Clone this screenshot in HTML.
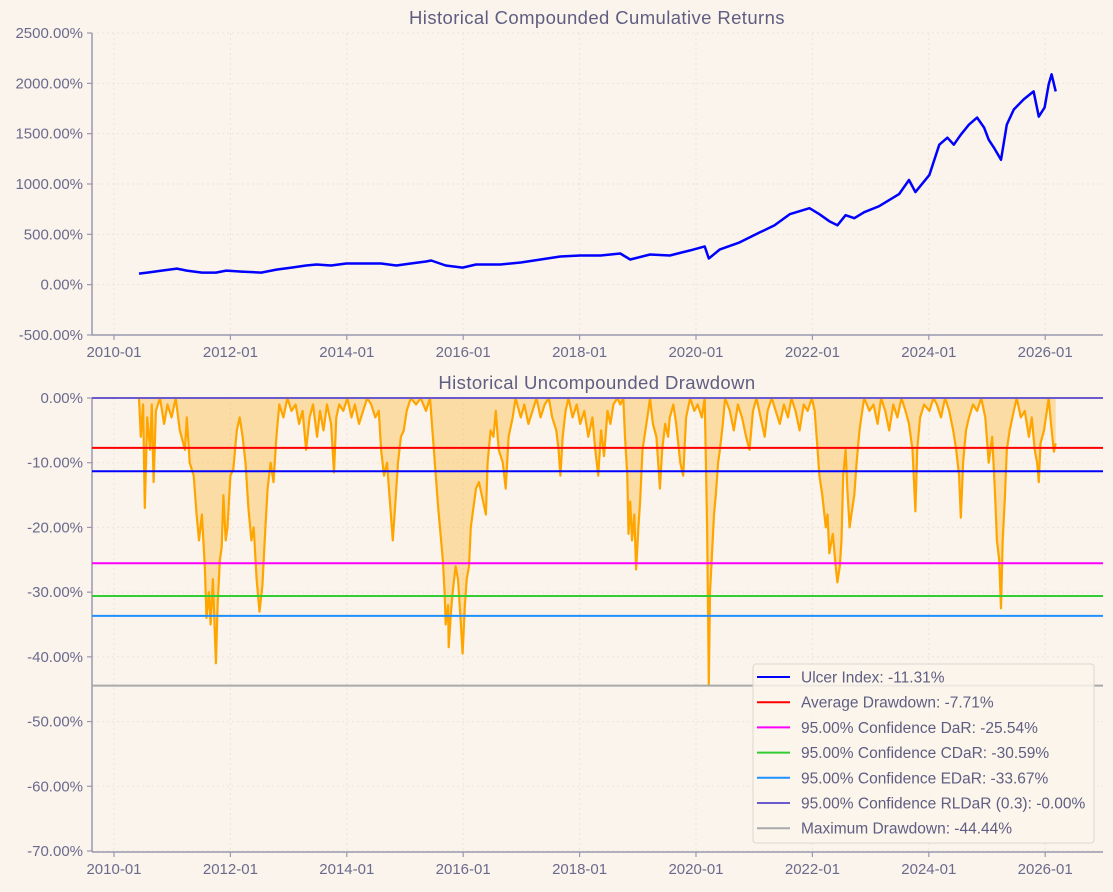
<!DOCTYPE html>
<html><head><meta charset="utf-8">
<style>
html,body{margin:0;padding:0;background:#faf4ec;}
svg{display:block;font-family:"Liberation Sans","DejaVu Sans",sans-serif;}
</style></head>
<body>
<svg id="chart" width="1113" height="892" viewBox="0 0 1113 892" xmlns="http://www.w3.org/2000/svg">
<rect width="1113" height="892" fill="#faf4ec"/>
<g id="top"></g>
<g id="bottom"></g>
</svg>
<script>
// ---------- DATA ----------
const cumDates = [0.43,0.57,0.82,1.08,1.25,1.51,1.75,1.93,2.19,2.53,2.79,3.05,3.30,3.48,3.73,3.99,4.25,4.59,4.85,5.10,5.36,5.45,5.70,5.99,6.22,6.64,6.99,7.33,7.67,8.01,8.36,8.70,8.87,9.21,9.55,9.90,10.15,10.22,10.41,10.75,11.10,11.35,11.61,11.78,11.95,12.12,12.29,12.43,12.57,12.72,12.89,13.15,13.32,13.49,13.66,13.77,14.01,14.18,14.32,14.43,14.55,14.69,14.83,14.95,15.03,15.12,15.24,15.34,15.46,15.63,15.80,15.89,15.99,16.06,16.11,16.18];
const cumValues = [110,120,140,160,140,120,120,140,130,120,150,170,190,200,190,210,210,210,190,210,230,240,190,170,200,200,220,250,280,290,290,310,250,300,290,340,380,260,350,420,520,590,700,730,760,700,630,590,690,660,720,780,840,900,1040,920,1090,1390,1460,1390,1490,1590,1660,1560,1440,1360,1240,1590,1740,1840,1920,1670,1760,1990,2090,1920];
const ddDates = [0.43,0.46,0.50,0.53,0.57,0.62,0.65,0.68,0.72,0.79,0.86,0.92,0.99,1.06,1.13,1.22,1.25,1.30,1.37,1.42,1.46,1.51,1.56,1.59,1.63,1.66,1.70,1.75,1.78,1.82,1.85,1.88,1.92,1.95,2.00,2.05,2.11,2.16,2.21,2.26,2.31,2.36,2.40,2.45,2.50,2.55,2.59,2.64,2.69,2.74,2.79,2.84,2.91,2.98,3.05,3.12,3.18,3.24,3.30,3.36,3.42,3.49,3.54,3.60,3.66,3.73,3.78,3.82,3.87,3.94,4.01,4.08,4.14,4.21,4.28,4.35,4.42,4.49,4.55,4.59,4.64,4.69,4.74,4.79,4.85,4.88,4.93,4.98,5.03,5.10,5.19,5.27,5.36,5.43,5.48,5.53,5.57,5.62,5.65,5.68,5.70,5.74,5.75,5.79,5.82,5.87,5.91,5.96,5.99,6.03,6.06,6.10,6.13,6.16,6.22,6.27,6.32,6.39,6.42,6.47,6.52,6.56,6.61,6.68,6.73,6.78,6.85,6.90,6.99,7.05,7.12,7.19,7.26,7.33,7.40,7.47,7.53,7.60,7.64,7.67,7.71,7.76,7.81,7.88,7.95,8.01,8.08,8.15,8.22,8.27,8.32,8.37,8.42,8.48,8.53,8.58,8.65,8.70,8.75,8.78,8.82,8.84,8.87,8.90,8.94,8.97,9.01,9.04,9.08,9.13,9.18,9.21,9.26,9.32,9.35,9.38,9.42,9.47,9.52,9.55,9.61,9.66,9.73,9.78,9.83,9.90,9.97,10.03,10.10,10.15,10.19,10.21,10.22,10.24,10.27,10.31,10.34,10.38,10.41,10.46,10.50,10.58,10.65,10.72,10.79,10.86,10.92,10.98,11.04,11.11,11.18,11.23,11.30,11.37,11.44,11.51,11.58,11.64,11.71,11.78,11.85,11.92,11.99,12.04,12.09,12.12,12.17,12.23,12.26,12.29,12.35,12.40,12.43,12.47,12.50,12.53,12.57,12.60,12.64,12.67,12.72,12.76,12.81,12.84,12.89,12.98,13.05,13.12,13.18,13.25,13.32,13.39,13.46,13.53,13.60,13.66,13.72,13.77,13.80,13.85,13.92,14.01,14.08,14.14,14.21,14.28,14.35,14.42,14.47,14.52,14.55,14.59,14.64,14.69,14.76,14.83,14.90,14.97,15.03,15.09,15.14,15.17,15.21,15.24,15.27,15.31,15.34,15.39,15.46,15.51,15.58,15.65,15.72,15.77,15.82,15.86,15.89,15.92,15.98,16.03,16.06,16.10,16.15,16.18];
const ddValues = [0,-6,-1,-17,-3,-8,-1,-13,-2,0,-4,-1,-3,0,-5,-8,-3,-10,-12,-18,-22,-18,-26,-34,-30,-35,-28,-41,-32,-25,-23,-15,-22,-20,-12,-11,-5,-3,-6,-10,-17,-22,-20,-28,-33,-29,-22,-14,-10,-13,-6,-1,-3,0,-2,-1,-4,-2,-8,-3,-1,-6,-2,-5,-1,-4,-11.5,-3,-1,-2,0,-3,-1,-4,-2,0,-1,-3,-2,-8,-12,-10,-16,-22,-14,-10,-6,-5,-2,0,-1,0,-2,0,-6,-12,-17,-22,-25,-30,-35,-32,-38.5,-33,-30,-26,-28,-35,-39.5,-32,-28,-26,-20,-18,-14,-13,-15,-18,-10,-5,-6,-2,-8,-10,-14,-6,-3,0,-3,-1,-4,-2,0,-3,-1,0,-3,-5,-8,-12,-6,-2,0,-3,-1,-4,-2,-6,-3,-8,-12,-5,-9,-2,-4,-1,0,-1,0,-6,-12,-21,-16,-22,-18,-26.5,-20,-16,-8,-5,-2,0,-4,-6,-10,-14,-8,-4,-6,-3,-1,-4,-10,-12,-3,0,-2,-1,-3,0,-20,-35,-44.4,-30,-25,-18,-15,-10,-8,-4,0,-2,-5,-1,-3,-6,-8,-2,0,-3,-6,-2,0,-2,-4,-1,-3,0,-2,-5,-1,-2,0,-2,-8,-12,-15,-20,-18,-24,-21,-26,-28.5,-26,-22,-12,-8,-14,-20,-18,-15,-10,-5,-3,0,-2,-1,-4,0,-2,-5,-1,-3,0,-2,-4,-8,-17.5,-8,-3,-1,-2,0,-1,-3,0,-2,-5,-8,-12,-18.5,-10,-5,-3,-1,-2,0,-3,-10,-6,-15,-22,-25,-32.5,-22,-15,-8,-5,-2,0,-3,-2,-6,-3,-8,-10,-13,-7,-5,-2,0,-4,-8.3,-7];
const refLabels = ["Ulcer Index: -11.31%","Average Drawdown: -7.71%","95.00% Confidence DaR: -25.54%","95.00% Confidence CDaR: -30.59%","95.00% Confidence EDaR: -33.67%","95.00% Confidence RLDaR (0.3): -0.00%","Maximum Drawdown: -44.44%"];
const refValues = [-11.31,-7.71,-25.54,-30.59,-33.67,-0.00,-44.44];
const refNames = ["ulcer-index-line","average-drawdown-line","dar-line","cdar-line","edar-line","rldar-line","max-drawdown-line"];
const refColors = ["#0000ff","#ff0000","#ff00ff","#32cd32","#1e90ff","#6a5acd","#a9a9a9"];
const xTickYears = [0,2,4,6,8,10,12,14,16];
const xTickLabels = ["2010-01","2012-01","2014-01","2016-01","2018-01","2020-01","2022-01","2024-01","2026-01"];
const topTicks = [2500,2000,1500,1000,500,0,-500];
const botTicks = [0,-10,-20,-30,-40,-50,-60,-70];

// ---------- HELPERS ----------
const NS="http://www.w3.org/2000/svg";
const AX="#9a98b0", TXT="#6b6a8c";
function mk(tag, attrs, parent){const e=document.createElementNS(NS,tag);for(const k in attrs)e.setAttribute(k,attrs[k]);parent.appendChild(e);return e;}
const L=92,R=1103;
const xS = yr => 114 + yr*58.2;
const topY = v => 335 - (v+500)/3000*302;
const botY = v => 398 + (-v)/70*453;

function axes(g, top, bottom, ticks, yfn, fmt, title, prefix){
  ticks.forEach(t=>{const l=mk('line',{x1:L,x2:R,y1:yfn(t),y2:yfn(t),stroke:'#efe3d6','stroke-width':1,'stroke-dasharray':'2,3'},g);
    });
  xTickYears.forEach(y=>{const l=mk('line',{x1:xS(y),x2:xS(y),y1:top,y2:bottom,stroke:'#efe3d6','stroke-width':1,'stroke-dasharray':'2,3'},g);
    });
  const ya=mk('line',{x1:L,x2:L,y1:top,y2:bottom,stroke:AX,'stroke-width':1.5},g);
  
  const xa=mk('line',{x1:L,x2:R,y1:bottom,y2:bottom,stroke:AX,'stroke-width':1.5},g);
  
  ticks.forEach(t=>{mk('line',{x1:L-5,x2:L,y1:yfn(t),y2:yfn(t),stroke:AX,'stroke-width':1.2},g);
    const tx=mk('text',{x:L-9,y:yfn(t)+5,'text-anchor':'end','font-size':15,fill:TXT},g);tx.textContent=fmt(t);
    });
  xTickYears.forEach((y,i)=>{mk('line',{x1:xS(y),x2:xS(y),y1:bottom,y2:bottom+5,stroke:AX,'stroke-width':1.2},g);
    const tx=mk('text',{x:xS(y),y:bottom+22,'text-anchor':'middle','font-size':15,fill:TXT},g);tx.textContent=xTickLabels[i];
    });
  const tt=mk('text',{x:597,y:top-9,'text-anchor':'middle','font-size':18.5,'letter-spacing':0.4,fill:'#5f5e82'},g);tt.textContent=title;
  
}

// ---------- TOP ----------
const gt=document.getElementById('top');
axes(gt,33,335,topTicks,topY,t=>t.toFixed(2)+'%','Historical Compounded Cumulative Returns','top');
const cp=mk('path',{d:cumDates.map((d,i)=>(i?'L':'M')+xS(d).toFixed(1)+','+topY(cumValues[i]).toFixed(1)).join(''),fill:'none',stroke:'#0000ff','stroke-width':2.5,'stroke-linejoin':'round'},gt);


// ---------- BOTTOM ----------
const gb=document.getElementById('bottom');
axes(gb,398,852,botTicks,botY,t=>t.toFixed(2)+'%','Historical Uncompounded Drawdown','bottom');
const pts=ddDates.map((d,i)=>xS(d).toFixed(1)+','+botY(ddValues[i]).toFixed(1));
const area=mk('path',{d:'M'+xS(ddDates[0])+','+botY(0)+'L'+pts.join('L')+'L'+xS(ddDates[ddDates.length-1])+','+botY(0)+'Z',fill:'#ffa500','fill-opacity':0.3,stroke:'none'},gb);

const dl=mk('path',{d:'M'+pts.join('L'),fill:'none',stroke:'#ffa500','stroke-width':2.2,'stroke-linejoin':'round'},gb);

refValues.forEach((v,i)=>{const l=mk('line',{x1:L,x2:R,y1:botY(v),y2:botY(v),stroke:refColors[i],'stroke-width':2},gb);
  });

// legend
const lg=mk('g',{},gb);

mk('rect',{x:753,y:664,width:341,height:179,rx:3,fill:'#faf4ec','fill-opacity':0.85,stroke:'#dcd6d0','stroke-width':1},lg);
refLabels.forEach((s,i)=>{const y=677+i*25.2;
  const e=mk('g',{},lg);
  
  mk('line',{x1:757,x2:790,y1:y,y2:y,stroke:refColors[i],'stroke-width':2},e);
  const t=mk('text',{x:801,y:y+5.5,'font-size':15.5,fill:'#5f5e82'},e);t.textContent=s;});
</script>
</body></html>
